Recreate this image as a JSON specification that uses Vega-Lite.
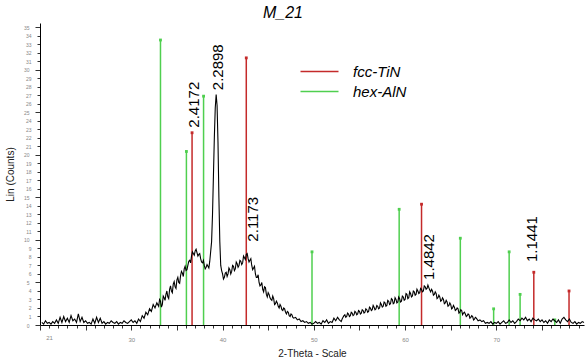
{
  "$schema": "https://vega.github.io/schema/vega-lite/v6.json",
  "width": 544,
  "height": 302,
  "autosize": "none",
  "padding": {"left": 40, "top": 23, "right": 1, "bottom": 35},
  "background": "white",
  "title": {"text": "M_21", "font": "Liberation Sans", "fontSize": 16, "fontStyle": "italic", "fontWeight": "normal", "color": "#000", "anchor": "middle", "dx": -29, "offset": 2},
  "config": {"view": {"stroke": null}},
  "datasets": {
    "curve": [
      {"t":20.2,"c":0.3},{"t":20.4,"c":0.1},{"t":20.6,"c":0.5},{"t":20.8,"c":0.2},{"t":21.0,"c":0.3},{"t":21.2,"c":0.1},{"t":21.4,"c":0.4},{"t":21.6,"c":0.2},{"t":21.8,"c":0.6},{"t":22.0,"c":0.2},
      {"t":22.2,"c":0.9},{"t":22.4,"c":0.3},{"t":22.6,"c":1.0},{"t":22.8,"c":0.4},{"t":23.0,"c":0.8},{"t":23.2,"c":0.3},{"t":23.4,"c":1.1},{"t":23.6,"c":0.5},{"t":23.8,"c":0.7},{"t":24.0,"c":0.3},
      {"t":24.2,"c":1.3},{"t":24.4,"c":0.4},{"t":24.6,"c":0.9},{"t":24.8,"c":0.3},{"t":25.0,"c":0.5},{"t":25.2,"c":0.2},{"t":25.4,"c":0.3},{"t":25.6,"c":0.1},{"t":25.8,"c":0.7},{"t":26.0,"c":0.2},
      {"t":26.2,"c":0.9},{"t":26.4,"c":0.3},{"t":26.6,"c":0.8},{"t":26.8,"c":0.2},{"t":27.0,"c":0.4},{"t":27.2,"c":0.1},{"t":27.4,"c":0.3},{"t":27.6,"c":0.2},{"t":27.8,"c":0.5},{"t":28.0,"c":0.3},
      {"t":28.2,"c":0.2},{"t":28.4,"c":0.4},{"t":28.6,"c":0.1},{"t":28.8,"c":0.3},{"t":29.0,"c":0.2},{"t":29.2,"c":0.5},{"t":29.4,"c":0.3},{"t":29.6,"c":0.2},{"t":29.8,"c":0.4},{"t":30.0,"c":0.6},
      {"t":30.2,"c":0.3},{"t":30.4,"c":0.5},{"t":30.6,"c":0.2},{"t":30.8,"c":0.7},{"t":31.0,"c":0.4},{"t":31.2,"c":1.1},{"t":31.4,"c":0.8},{"t":31.6,"c":1.5},{"t":31.8,"c":1.2},{"t":32.0,"c":1.9},
      {"t":32.2,"c":1.6},{"t":32.4,"c":2.4},{"t":32.6,"c":2.0},{"t":32.8,"c":2.6},{"t":33.0,"c":2.2},{"t":33.2,"c":2.8},{"t":33.4,"c":2.4},{"t":33.6,"c":3.2},{"t":33.8,"c":3.6},{"t":34.0,"c":3.3},
      {"t":34.2,"c":4.2},{"t":34.4,"c":4.0},{"t":34.6,"c":4.8},{"t":34.8,"c":4.5},{"t":35.0,"c":5.3},{"t":35.2,"c":5.0},{"t":35.4,"c":5.8},{"t":35.6,"c":6.1},{"t":35.8,"c":6.6},{"t":36.0,"c":6.4},
      {"t":36.2,"c":7.0},{"t":36.4,"c":7.6},{"t":36.6,"c":8.1},{"t":36.8,"c":8.4},{"t":37.0,"c":8.7},{"t":37.2,"c":8.5},{"t":37.4,"c":8.3},{"t":37.6,"c":7.8},{"t":37.8,"c":7.3},{"t":38.0,"c":7.0},
      {"t":38.2,"c":6.8},{"t":38.4,"c":6.9},{"t":38.6,"c":7.5},{"t":38.8,"c":9.8},{"t":38.9,"c":13.0},{"t":39.0,"c":17.5},{"t":39.1,"c":22.0},{"t":39.2,"c":25.5},{"t":39.3,"c":27.1},{"t":39.4,"c":25.8},
      {"t":39.5,"c":21.5},{"t":39.6,"c":15.0},{"t":39.7,"c":9.8},{"t":39.8,"c":7.0},{"t":40.0,"c":6.0},{"t":40.2,"c":5.6},{"t":40.4,"c":6.2},{"t":40.6,"c":6.0},{"t":40.8,"c":6.5},{"t":41.0,"c":6.3},
      {"t":41.2,"c":6.9},{"t":41.4,"c":6.6},{"t":41.6,"c":7.2},{"t":41.8,"c":7.0},{"t":42.0,"c":7.5},{"t":42.2,"c":7.3},{"t":42.4,"c":7.9},{"t":42.6,"c":8.3},{"t":42.8,"c":7.8},{"t":43.0,"c":7.6},
      {"t":43.2,"c":7.0},{"t":43.4,"c":6.7},{"t":43.6,"c":6.0},{"t":43.8,"c":5.6},{"t":44.0,"c":5.0},{"t":44.2,"c":4.7},{"t":44.4,"c":4.2},{"t":44.6,"c":4.5},{"t":44.8,"c":3.6},{"t":45.0,"c":3.8},
      {"t":45.2,"c":3.2},{"t":45.4,"c":2.9},{"t":45.6,"c":3.1},{"t":45.8,"c":2.5},{"t":46.0,"c":2.6},{"t":46.2,"c":2.0},{"t":46.4,"c":2.2},{"t":46.6,"c":1.7},{"t":46.8,"c":1.9},{"t":47.0,"c":1.3},
      {"t":47.2,"c":1.5},{"t":47.4,"c":1.0},{"t":47.6,"c":1.2},{"t":47.8,"c":0.8},{"t":48.0,"c":0.9},{"t":48.2,"c":0.6},{"t":48.4,"c":0.7},{"t":48.6,"c":0.4},{"t":48.8,"c":0.5},{"t":49.0,"c":0.3},
      {"t":49.2,"c":0.4},{"t":49.4,"c":0.2},{"t":49.6,"c":0.3},{"t":49.8,"c":0.1},{"t":50.0,"c":0.2},{"t":50.2,"c":0.4},{"t":50.4,"c":0.2},{"t":50.6,"c":0.3},{"t":50.8,"c":0.1},{"t":51.0,"c":0.5},
      {"t":51.2,"c":0.3},{"t":51.4,"c":0.6},{"t":51.6,"c":0.2},{"t":51.8,"c":0.4},{"t":52.0,"c":0.3},{"t":52.2,"c":0.8},{"t":52.4,"c":0.5},{"t":52.6,"c":0.9},{"t":52.8,"c":0.6},{"t":53.0,"c":0.4},
      {"t":53.2,"c":0.9},{"t":53.4,"c":1.2},{"t":53.6,"c":1.0},{"t":53.8,"c":1.3},{"t":54.0,"c":1.1},{"t":54.2,"c":1.4},{"t":54.4,"c":1.2},{"t":54.6,"c":1.5},{"t":54.8,"c":1.3},{"t":55.0,"c":1.6},
      {"t":55.2,"c":1.4},{"t":55.4,"c":1.7},{"t":55.6,"c":1.5},{"t":55.8,"c":1.8},{"t":56.0,"c":1.6},{"t":56.2,"c":2.0},{"t":56.4,"c":1.8},{"t":56.6,"c":2.1},{"t":56.8,"c":1.9},{"t":57.0,"c":2.2},
      {"t":57.2,"c":2.0},{"t":57.4,"c":2.4},{"t":57.6,"c":2.2},{"t":57.8,"c":2.6},{"t":58.0,"c":2.3},{"t":58.2,"c":2.8},{"t":58.4,"c":2.5},{"t":58.6,"c":3.0},{"t":58.8,"c":2.6},{"t":59.0,"c":3.0},
      {"t":59.2,"c":2.7},{"t":59.4,"c":3.1},{"t":59.6,"c":2.8},{"t":59.8,"c":3.3},{"t":60.0,"c":3.0},{"t":60.2,"c":3.6},{"t":60.4,"c":3.2},{"t":60.6,"c":3.7},{"t":60.8,"c":3.4},{"t":61.0,"c":3.9},
      {"t":61.2,"c":3.6},{"t":61.4,"c":4.0},{"t":61.6,"c":3.8},{"t":61.8,"c":4.2},{"t":62.0,"c":4.0},{"t":62.2,"c":4.5},{"t":62.4,"c":4.3},{"t":62.6,"c":4.4},{"t":62.8,"c":3.9},{"t":63.0,"c":4.0},
      {"t":63.2,"c":3.6},{"t":63.4,"c":3.7},{"t":63.6,"c":3.2},{"t":63.8,"c":3.3},{"t":64.0,"c":2.9},{"t":64.2,"c":3.0},{"t":64.4,"c":2.6},{"t":64.6,"c":2.7},{"t":64.8,"c":2.3},{"t":65.0,"c":2.4},
      {"t":65.2,"c":2.0},{"t":65.4,"c":2.1},{"t":65.6,"c":1.8},{"t":65.8,"c":1.9},{"t":66.0,"c":1.5},{"t":66.2,"c":1.7},{"t":66.4,"c":1.4},{"t":66.6,"c":1.3},{"t":66.8,"c":1.1},{"t":67.0,"c":1.2},
      {"t":67.2,"c":0.9},{"t":67.4,"c":1.0},{"t":67.6,"c":0.7},{"t":67.8,"c":0.8},{"t":68.0,"c":0.5},{"t":68.2,"c":0.6},{"t":68.4,"c":0.4},{"t":68.6,"c":0.5},{"t":68.8,"c":0.2},{"t":69.0,"c":0.3},
      {"t":69.2,"c":0.2},{"t":69.4,"c":0.4},{"t":69.6,"c":0.1},{"t":69.8,"c":0.3},{"t":70.0,"c":0.2},{"t":70.2,"c":0.4},{"t":70.4,"c":0.1},{"t":70.6,"c":0.3},{"t":70.8,"c":0.5},{"t":71.0,"c":0.2},
      {"t":71.2,"c":0.3},{"t":71.4,"c":0.6},{"t":71.6,"c":0.3},{"t":71.8,"c":0.5},{"t":72.0,"c":0.2},{"t":72.2,"c":0.4},{"t":72.4,"c":0.7},{"t":72.6,"c":0.5},{"t":72.8,"c":0.8},{"t":73.0,"c":0.6},
      {"t":73.2,"c":0.9},{"t":73.4,"c":0.5},{"t":73.6,"c":0.7},{"t":73.8,"c":0.4},{"t":74.0,"c":0.8},{"t":74.2,"c":0.6},{"t":74.4,"c":0.5},{"t":74.6,"c":0.7},{"t":74.8,"c":0.4},{"t":75.0,"c":0.6},
      {"t":75.2,"c":0.3},{"t":75.4,"c":0.5},{"t":75.6,"c":0.2},{"t":75.8,"c":0.6},{"t":76.0,"c":0.4},{"t":76.2,"c":0.7},{"t":76.4,"c":0.5},{"t":76.6,"c":0.3},{"t":76.8,"c":0.6},{"t":77.0,"c":0.2},
      {"t":77.2,"c":0.7},{"t":77.4,"c":0.9},{"t":77.6,"c":0.6},{"t":77.8,"c":0.4},{"t":78.0,"c":0.7},{"t":78.2,"c":0.3},{"t":78.4,"c":0.2},{"t":78.6,"c":0.4},{"t":78.8,"c":0.1},{"t":79.0,"c":0.3},
      {"t":79.2,"c":0.2},{"t":79.4,"c":0.4},{"t":79.6,"c":0.3},
      {"t":33.1,"c":3.0},{"t":33.3,"c":2.1},{"t":33.5,"c":3.4},{"t":33.7,"c":2.9},{"t":33.9,"c":4.0},{"t":34.1,"c":3.1},{"t":34.3,"c":4.6},{"t":34.5,"c":3.8},{"t":34.7,"c":5.1},{"t":34.9,"c":4.3},
      {"t":35.1,"c":5.6},{"t":35.3,"c":4.9},{"t":35.5,"c":6.3},{"t":35.7,"c":5.7},{"t":35.9,"c":6.9},{"t":36.1,"c":6.5},{"t":36.3,"c":7.5},{"t":36.5,"c":7.3},{"t":36.7,"c":8.6},{"t":36.9,"c":8.2},
      {"t":37.1,"c":8.9},{"t":37.3,"c":8.1},{"t":37.5,"c":8.4},{"t":37.7,"c":7.4},{"t":37.9,"c":7.6},{"t":38.1,"c":6.6},{"t":38.3,"c":7.1},{"t":38.5,"c":6.7},
      {"t":39.9,"c":6.4},{"t":40.1,"c":5.4},{"t":40.3,"c":6.1},{"t":40.5,"c":5.7},{"t":40.7,"c":6.7},{"t":40.9,"c":6.0},{"t":41.1,"c":7.0},{"t":41.3,"c":6.4},{"t":41.5,"c":7.4},{"t":41.7,"c":6.8},
      {"t":41.9,"c":7.6},{"t":42.1,"c":7.1},{"t":42.3,"c":8.1},{"t":42.5,"c":7.7},{"t":42.7,"c":8.4},{"t":42.9,"c":7.4},{"t":43.1,"c":7.8},{"t":43.3,"c":6.5},{"t":43.5,"c":6.9},{"t":43.7,"c":5.6},
      {"t":43.9,"c":5.9},{"t":44.1,"c":4.6},{"t":44.3,"c":5.0},{"t":44.5,"c":3.9},{"t":44.7,"c":4.4},{"t":44.9,"c":3.3},{"t":45.1,"c":3.6},{"t":45.3,"c":3.0},{"t":45.5,"c":3.4},{"t":45.7,"c":2.4},
      {"t":45.9,"c":2.8},{"t":46.1,"c":2.2},{"t":46.3,"c":2.4},{"t":46.5,"c":1.8},{"t":46.7,"c":2.0},{"t":46.9,"c":1.5},{"t":47.1,"c":1.6},{"t":47.3,"c":1.1},{"t":47.5,"c":1.3},{"t":47.7,"c":0.9},
      {"t":53.1,"c":0.7},{"t":53.3,"c":1.1},{"t":53.5,"c":0.9},{"t":53.7,"c":1.4},{"t":53.9,"c":1.0},{"t":54.1,"c":1.5},{"t":54.3,"c":1.1},{"t":54.5,"c":1.6},{"t":54.7,"c":1.2},{"t":54.9,"c":1.7},
      {"t":55.1,"c":1.3},{"t":55.3,"c":1.8},{"t":55.5,"c":1.4},{"t":55.7,"c":1.9},{"t":55.9,"c":1.5},{"t":56.1,"c":2.1},{"t":56.3,"c":1.7},{"t":56.5,"c":2.3},{"t":56.7,"c":1.8},{"t":56.9,"c":2.3},
      {"t":57.1,"c":1.9},{"t":57.3,"c":2.6},{"t":57.5,"c":2.1},{"t":57.7,"c":2.7},{"t":57.9,"c":2.2},{"t":58.1,"c":2.9},{"t":58.3,"c":2.4},{"t":58.5,"c":3.1},{"t":58.7,"c":2.5},{"t":58.9,"c":3.2},
      {"t":59.1,"c":2.6},{"t":59.3,"c":3.3},{"t":59.5,"c":2.7},{"t":59.7,"c":3.4},{"t":59.9,"c":2.9},{"t":60.1,"c":3.7},{"t":60.3,"c":3.1},{"t":60.5,"c":3.9},{"t":60.7,"c":3.3},{"t":60.9,"c":4.0},
      {"t":61.1,"c":3.5},{"t":61.3,"c":4.2},{"t":61.5,"c":3.7},{"t":61.7,"c":4.3},{"t":61.9,"c":3.9},{"t":62.1,"c":4.6},{"t":62.3,"c":4.2},{"t":62.5,"c":4.7},{"t":62.7,"c":4.1},{"t":62.9,"c":4.2},
      {"t":63.1,"c":3.5},{"t":63.3,"c":3.9},{"t":63.5,"c":3.1},{"t":63.7,"c":3.5},{"t":63.9,"c":2.8},{"t":64.1,"c":3.2},{"t":64.3,"c":2.5},{"t":64.5,"c":2.9},{"t":64.7,"c":2.2},{"t":64.9,"c":2.6},
      {"t":65.1,"c":1.9},{"t":65.3,"c":2.3},{"t":65.5,"c":1.7},{"t":65.7,"c":2.0},{"t":65.9,"c":1.4},{"t":66.1,"c":1.8},{"t":66.3,"c":1.2},{"t":66.5,"c":1.5},{"t":66.7,"c":1.0},{"t":66.9,"c":1.3},
      {"t":67.1,"c":0.8},{"t":67.3,"c":1.1},{"t":67.5,"c":0.6},{"t":67.7,"c":0.9}
    ],
    "sticks": [
      {"phase":"fcc-TiN","t":36.66,"i":22.6},
      {"phase":"fcc-TiN","t":42.6,"i":31.4},
      {"phase":"fcc-TiN","t":61.8,"i":14.2},
      {"phase":"fcc-TiN","t":74.1,"i":6.2},
      {"phase":"fcc-TiN","t":77.96,"i":4.0},
      {"phase":"hex-AlN","t":33.2,"i":33.5},
      {"phase":"hex-AlN","t":36.04,"i":20.4},
      {"phase":"hex-AlN","t":37.92,"i":26.9},
      {"phase":"hex-AlN","t":49.8,"i":8.6},
      {"phase":"hex-AlN","t":59.35,"i":13.6},
      {"phase":"hex-AlN","t":66.05,"i":10.2},
      {"phase":"hex-AlN","t":69.7,"i":1.9},
      {"phase":"hex-AlN","t":71.4,"i":8.6},
      {"phase":"hex-AlN","t":72.6,"i":3.6},
      {"phase":"hex-AlN","t":76.4,"i":0.6}
    ],
    "labels": [
      {"label":"2.4172","t":36.84,"c":23.2},
      {"label":"2.2898","t":39.47,"c":27.6},
      {"label":"2.1173","t":43.3,"c":9.8},
      {"label":"1.4842","t":62.6,"c":5.3},
      {"label":"1.1441","t":73.9,"c":7.4}
    ]
  },
  "encoding": {
    "x": {"field": "t", "type": "quantitative", "scale": {"domain": [20, 79.6], "nice": false, "zero": false},
      "axis": {"title": "2-Theta - Scale", "titleFont": "Liberation Sans", "titleFontSize": 10, "titleFontWeight": "normal", "titleColor": "#222", "titlePadding": 6,
        "values": [20,21,22,23,24,25,26,27,28,29,30,31,32,33,34,35,36,37,38,39,40,41,42,43,44,45,46,47,48,49,50,51,52,53,54,55,56,57,58,59,60,61,62,63,64,65,66,67,68,69,70,71,72,73,74,75,76,77,78,79],
        "labelExpr": "indexof([21,30,40,50,60,70], datum.value) >= 0 ? datum.label : ''",
        "labelOverlap": false, "labelFlush": false, "labelFontSize": 6, "labelColor": "#888", "labelFont": "Liberation Sans", "labelPadding": 6,
        "tickColor": "#333", "tickSize": {"condition": {"test": "datum.value % 5 === 0", "value": 5}, "value": 3},
        "domainColor": "#000", "domainWidth": 1, "grid": false}},
    "y": {"type": "quantitative", "scale": {"domain": [0, 35.5], "nice": false},
      "axis": {"title": "Lin (Counts)", "titleFont": "Liberation Sans", "titleFontSize": 10, "titleFontWeight": "normal", "titleColor": "#222", "titlePadding": 8,
        "values": [0,1,2,3,4,5,6,7,8,9,10,11,12,13,14,15,16,17,18,19,20,21,22,23,24,25,26,27,28,29,30,31,32,33,34,35],
        "labelOverlap": false, "labelFlush": false, "labelFontSize": 5, "labelColor": "#888", "labelFont": "Liberation Sans", "labelPadding": 6,
        "tickColor": "#333", "tickSize": {"condition": {"test": "datum.value % 5 === 0", "value": 5}, "value": 3},
        "domainColor": "#000", "domainWidth": 1, "grid": false}}
  },
  "layer": [
    {
      "data": {"name": "sticks"},
      "mark": {"type": "rule", "strokeWidth": 1.5},
      "encoding": {
        "y": {"field": "i", "type": "quantitative"},
        "y2": {"datum": 0},
        "color": {"field": "phase", "type": "nominal",
          "scale": {"domain": ["fcc-TiN", "hex-AlN"], "range": ["#c42a2a", "#4fcf4f"]},
          "legend": {"title": null, "orient": "none", "legendX": 269, "legendY": 38, "symbolType": "M-2,0H2", "symbolSize": 361, "symbolStrokeWidth": 1.5,
            "labelFont": "Liberation Sans", "labelFontSize": 15, "labelFontStyle": "italic", "labelColor": "#000", "labelOffset": 23, "rowPadding": 1}}
      }
    },
    {
      "data": {"name": "sticks"},
      "mark": {"type": "point", "shape": "square", "filled": true, "size": 8, "opacity": 1},
      "encoding": {
        "y": {"field": "i", "type": "quantitative"},
        "color": {"field": "phase", "type": "nominal", "legend": null}
      }
    },
    {
      "data": {"name": "curve"},
      "mark": {"type": "line", "color": "#000", "strokeWidth": 1.1},
      "encoding": {"y": {"field": "c", "type": "quantitative"}}
    },
    {
      "data": {"name": "labels"},
      "mark": {"type": "text", "angle": 270, "align": "left", "baseline": "middle", "font": "Liberation Sans", "fontSize": 15, "color": "#000"},
      "encoding": {
        "y": {"field": "c", "type": "quantitative"},
        "text": {"field": "label"}
      }
    }
  ]
}
